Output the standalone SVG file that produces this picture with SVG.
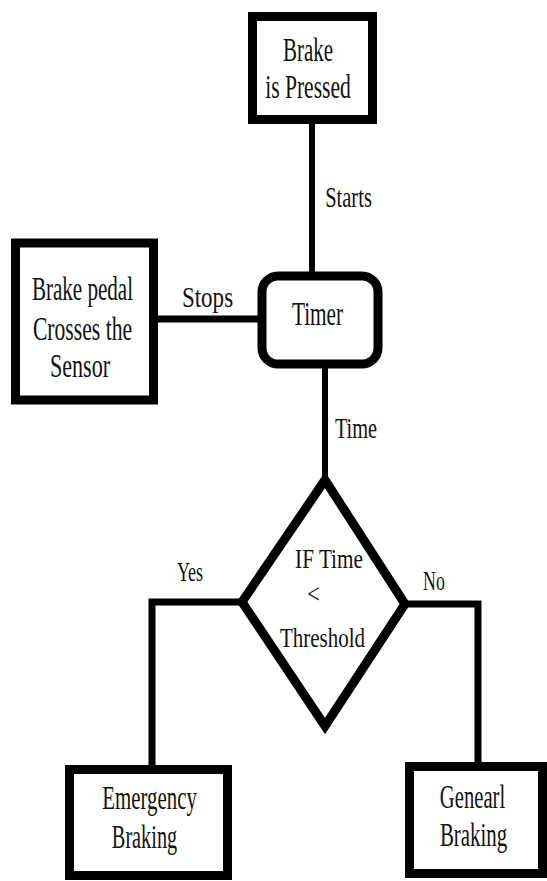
<svg xmlns="http://www.w3.org/2000/svg" width="547" height="881" viewBox="0 0 547 881">
  <style>
    .box { fill: #ffffff; stroke: #000000; stroke-width: 9; }
    .wire { fill: none; stroke: #000000; stroke-linecap: butt; stroke-linejoin: miter; }
    text { font-family: "Liberation Serif", "Times New Roman", serif; fill: #111111; font-size: 33px; text-anchor: middle; }
    .lbl { font-size: 30px; }
    .sm { font-size: 28px; }
  </style>
  <rect x="0" y="0" width="547" height="881" fill="#ffffff"/>

  <!-- connectors; labels are drawn in a horizontally condensed serif -->
  <g id="connectors">
    <line class="wire" x1="312" y1="122" x2="312" y2="274" stroke-width="6"/>
    <line class="wire" x1="157" y1="319" x2="260" y2="319" stroke-width="7"/>
    <line class="wire" x1="325" y1="366" x2="325" y2="476" stroke-width="6"/>
    <path class="wire" d="M240 602 H152 V767" stroke-width="7"/>
    <path class="wire" d="M407 604 H478 V764" stroke-width="7"/>
    <text class="lbl" transform="translate(348.5 207) scale(0.64 1)" textLength="73" lengthAdjust="spacingAndGlyphs">Starts</text>
    <text class="lbl" transform="translate(207.5 307) scale(0.64 1)" textLength="80" lengthAdjust="spacingAndGlyphs">Stops</text>
    <text class="lbl" transform="translate(356 438) scale(0.64 1)" textLength="66" lengthAdjust="spacingAndGlyphs">Time</text>
    <text class="sm" transform="translate(190 581) scale(0.64 1)" textLength="41" lengthAdjust="spacingAndGlyphs">Yes</text>
    <text class="sm" transform="translate(434 590) scale(0.64 1)" textLength="34" lengthAdjust="spacingAndGlyphs">No</text>
  </g>

  <g id="brake-pressed">
    <rect class="box" x="252.5" y="16.5" width="120" height="103"/>
    <text transform="translate(308 61) scale(0.64 1)" textLength="78" lengthAdjust="spacingAndGlyphs">Brake</text>
    <text transform="translate(308 98) scale(0.64 1)" textLength="134" lengthAdjust="spacingAndGlyphs">is Pressed</text>
  </g>

  <g id="pedal-sensor">
    <rect class="box" x="15.5" y="243" width="138" height="157" stroke-width="11"/>
    <text transform="translate(82.5 300) scale(0.64 1)" textLength="158" lengthAdjust="spacingAndGlyphs">Brake pedal</text>
    <text transform="translate(82.5 340) scale(0.64 1)" textLength="155" lengthAdjust="spacingAndGlyphs">Crosses the</text>
    <text transform="translate(80 377) scale(0.64 1)" textLength="94" lengthAdjust="spacingAndGlyphs">Sensor</text>
  </g>

  <g id="timer">
    <rect class="box" x="262" y="276" width="116" height="88" rx="16" ry="16" stroke-width="8"/>
    <text transform="translate(317.5 325) scale(0.64 1)" textLength="80" lengthAdjust="spacingAndGlyphs">Timer</text>
  </g>

  <g id="decision">
    <polygon class="box" points="325,480 405,604 325,726 242,602" stroke-width="8" stroke-linejoin="miter"/>
    <text class="sm" transform="translate(329 568) scale(0.64 1)" textLength="106" lengthAdjust="spacingAndGlyphs">IF Time</text>
    <text class="sm" transform="translate(313.5 603) scale(0.64 1)" textLength="20" lengthAdjust="spacingAndGlyphs">&lt;</text>
    <text class="sm" transform="translate(322.5 647) scale(0.64 1)" textLength="133" lengthAdjust="spacingAndGlyphs">Threshold</text>
  </g>

  <g id="emergency-braking">
    <rect class="box" x="69.5" y="769.5" width="158" height="106"/>
    <text transform="translate(149.5 809) scale(0.64 1)" textLength="148" lengthAdjust="spacingAndGlyphs">Emergency</text>
    <text transform="translate(144.5 848) scale(0.64 1)" textLength="102" lengthAdjust="spacingAndGlyphs">Braking</text>
  </g>

  <g id="general-braking">
    <rect class="box" x="409.5" y="766.5" width="133" height="107"/>
    <text transform="translate(472.5 808) scale(0.64 1)" textLength="102" lengthAdjust="spacingAndGlyphs">Genearl</text>
    <text transform="translate(473.5 846) scale(0.64 1)" textLength="105" lengthAdjust="spacingAndGlyphs">Braking</text>
  </g>
</svg>
